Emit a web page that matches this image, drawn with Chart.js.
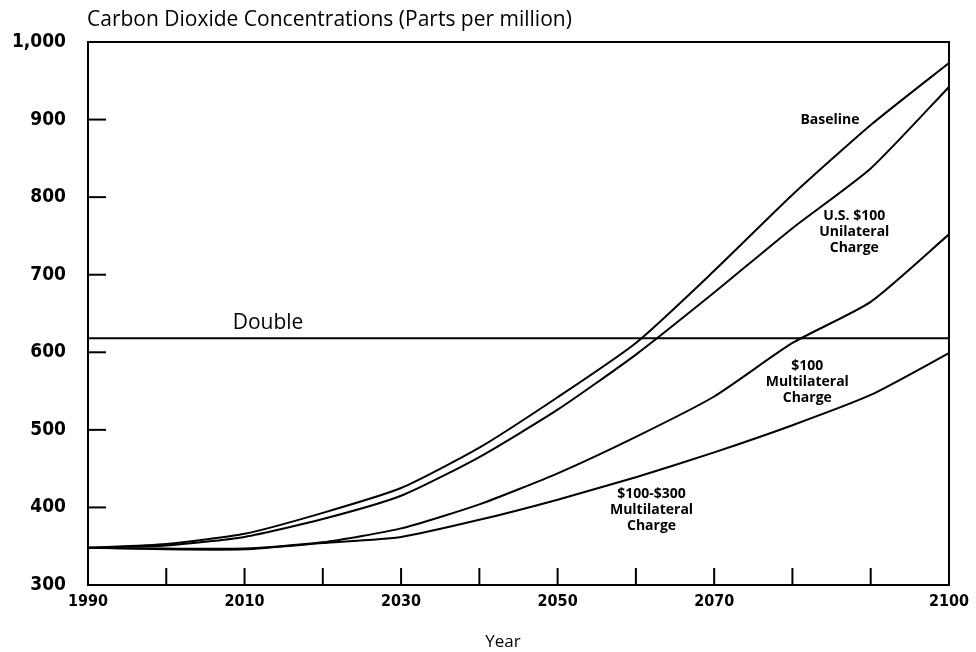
<!DOCTYPE html>
<html>
<head>
    <title>Carbon Dioxide Concentrations</title>
    <script src="https://cdn.jsdelivr.net/npm/chart.js"></script>
    <style>
        body { margin: 0; background: #fff; }
        .chart-container { width: 976px; height: 652px; }
    </style>
</head>
<body>
    <div class="chart-container">
        <canvas id="co2Chart" width="976" height="652"></canvas>
    </div>

    <script>
// values (ppm)
var years = [1990, 2000, 2010, 2020, 2030, 2040, 2050, 2060, 2070, 2080, 2090, 2100];
var baseline = [348, 353, 366, 393, 425, 477, 542, 612, 705, 803, 893, 973];
var usUnilateral = [348, 351, 362, 385, 415, 465, 526, 597, 677, 760, 837, 942];
var multilateral100 = [348, 347, 347, 355, 373, 404, 444, 491, 543, 612, 665, 752];
var multilateral100to300 = [348, 346, 346, 354, 362, 384, 410, 439, 471, 506, 545, 599];
var doubleLevel = 618;

var xTickLabels = [1990, 2010, 2030, 2050, 2070, 2100];
var yTickValues = [300, 400, 500, 600, 700, 800, 900, 1000];

var titleText = 'Carbon Dioxide Concentrations (Parts per million)';
var xTitleText = 'Year';
var doubleText = 'Double';

// label text with the year/value it sits near
var seriesLabels = [
    { lines: ['Baseline'], x: 2084.8, y: 899 },
    { lines: ['U.S. $100', 'Unilateral', 'Charge'], x: 2087.9, y: 776 },
    { lines: ['$100', 'Multilateral', 'Charge'], x: 2081.9, y: 582 },
    { lines: ['$100-$300', 'Multilateral', 'Charge'], x: 2062, y: 417 }
];

function toPoints(values) {
    return values.map(function(v, i) { return { x: years[i], y: v }; });
}

var decorPlugin = {
    id: 'decor',
    afterDraw: function(chart) {
        var ctx = chart.ctx;
        var area = chart.chartArea;
        var xs = chart.scales.x;
        var ys = chart.scales.y;
        ctx.save();
        ctx.strokeStyle = '#000';
        ctx.fillStyle = '#000';

        // frame
        ctx.lineWidth = 2;
        ctx.strokeRect(area.left, area.top, area.right - area.left, area.bottom - area.top);

        // inward ticks on x
        for (var yr = 2000; yr < 2100; yr += 10) {
            var px = xs.getPixelForValue(yr);
            ctx.beginPath();
            ctx.moveTo(px, area.bottom);
            ctx.lineTo(px, area.bottom - 17);
            ctx.stroke();
        }
        // inward ticks on y
        for (var v = 400; v < 1000; v += 100) {
            var py = ys.getPixelForValue(v);
            ctx.beginPath();
            ctx.moveTo(area.left, py);
            ctx.lineTo(area.left + 18, py);
            ctx.stroke();
        }

        // double line
        var dy = ys.getPixelForValue(doubleLevel);
        ctx.lineWidth = 2;
        ctx.beginPath();
        ctx.moveTo(area.left, dy);
        ctx.lineTo(area.right, dy);
        ctx.stroke();

        ctx.font = '21px "Open Sans"';
        ctx.textAlign = 'center';
        ctx.textBaseline = 'middle';
        ctx.fillText(doubleText, xs.getPixelForValue(2013), dy - 15);

        // title
        ctx.textAlign = 'left';
        ctx.font = '21px "Open Sans"';
        ctx.fillText(titleText, 87, 20);

        // x title
        ctx.textAlign = 'center';
        ctx.font = '17px "Open Sans"';
        ctx.fillText(xTitleText, 503, 642);

        // series labels
        ctx.font = 'bold 14px "Open Sans"';
        seriesLabels.forEach(function(lbl) {
            var cx = xs.getPixelForValue(lbl.x);
            var cy = ys.getPixelForValue(lbl.y);
            lbl.lines.forEach(function(t, i) {
                ctx.fillText(t, cx, cy + i * 16);
            });
        });
        ctx.restore();
    }
};

var lineStyle = {
    borderColor: '#000',
    borderWidth: 2,
    pointRadius: 0,
    fill: false,
    tension: 0.2
};

var co2Chart = new Chart(document.getElementById('co2Chart'), {
    type: 'line',
    data: {
        datasets: [
            Object.assign({ label: 'Baseline', data: toPoints(baseline) }, lineStyle),
            Object.assign({ label: 'U.S. $100 Unilateral Charge', data: toPoints(usUnilateral) }, lineStyle),
            Object.assign({ label: '$100 Multilateral Charge', data: toPoints(multilateral100) }, lineStyle),
            Object.assign({ label: '$100-$300 Multilateral Charge', data: toPoints(multilateral100to300) }, lineStyle)
        ]
    },
    options: {
        responsive: false,
        animation: false,
        layout: { padding: { top: 42, right: 26, bottom: 0, left: 0 } },
        plugins: {
            legend: { display: false },
            tooltip: { enabled: false }
        },
        scales: {
            x: {
                type: 'linear',
                min: 1990,
                max: 2100,
                grid: { display: false, drawTicks: false },
                border: { display: false },
                afterFit: function(s) { s.height = 67; },
                afterBuildTicks: function(s) {
                    s.ticks = xTickLabels.map(function(v) { return { value: v }; });
                },
                ticks: {
                    color: '#000',
                    padding: 7,
                    maxRotation: 0,
                    autoSkip: false,
                    font: { family: '"DejaVu Sans Condensed"', weight: 'bold', size: 16 },
                    callback: function(v) { return String(v); }
                }
            },
            y: {
                min: 300,
                max: 1000,
                grid: { display: false, drawTicks: false },
                border: { display: false },
                afterFit: function(s) { s.width = 88; },
                afterBuildTicks: function(s) {
                    s.ticks = yTickValues.map(function(v) { return { value: v }; });
                },
                ticks: {
                    color: '#000',
                    padding: 22,
                    autoSkip: false,
                    font: { family: '"DejaVu Sans Condensed"', weight: 'bold', size: 19 },
                    callback: function(v) { return v === 1000 ? '1,000' : String(v); }
                }
            }
        }
    },
    plugins: [decorPlugin]
});
    </script>
</body>
</html>
